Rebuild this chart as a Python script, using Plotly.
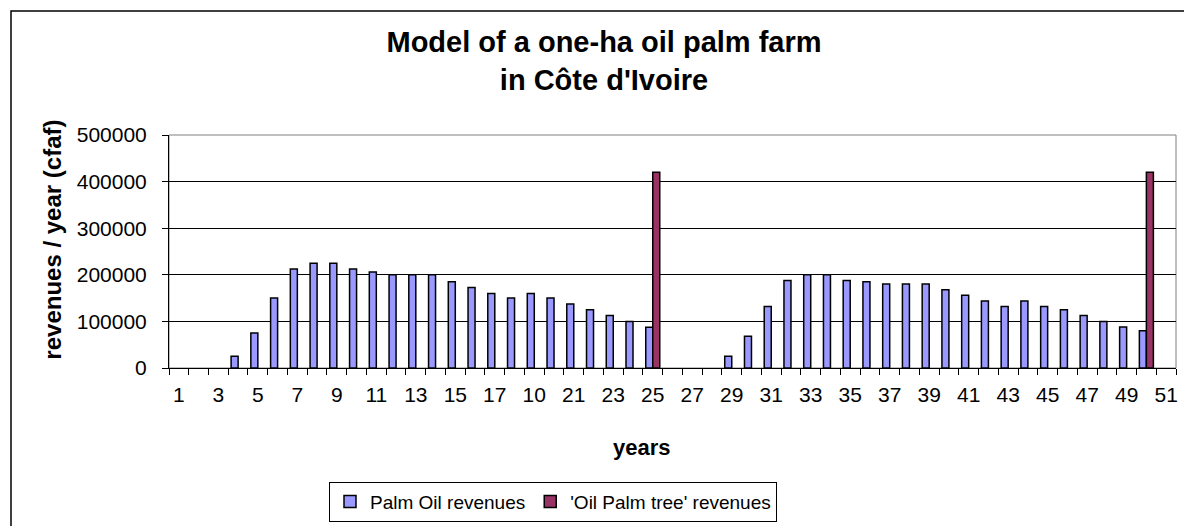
import plotly.graph_objects as go

# --- data ----------------------------------------------------
years = list(range(1, 52))

palm_oil = [0, 0, 0, 25000, 75000, 150000, 212500, 225000, 225000, 212500,
            206000, 200000, 200000, 200000, 185000, 172500, 160000, 150000,
            160000, 150000, 137500, 125000, 112500, 100000, 87500,
            0, 0, 0, 25000, 68000, 132000, 188000, 200000, 200000, 188000,
            185000, 180000, 180000, 180000, 168000, 156000, 144000, 132000,
            144000, 132000, 125000, 112500, 100000, 88000, 80000, 0]

tree = [0] * 51
tree[24] = 420000   # year 25
tree[49] = 420000   # year 50

tick_years = years[::2]
tick_text = ["1", "3", "5", "7", "9", "11", "13", "15", "17", "10", "21", "23",
             "25", "27", "29", "31", "33", "35", "37", "39", "41", "43", "45",
             "47", "49", "51"]

FONT = "Liberation Sans, Arial, sans-serif"

# plot area in pixels
L, R, T, B = 161, 1168, 127, 363
W, H = 1192, 526
pw, ph = R - L, B - T


def px(x):
    return (x - L) / pw


def py(y):
    return (B - y) / ph


def no_zero(vals):
    # empty years draw no bar at all
    return [v if v else None for v in vals]


fig = go.Figure()

fig.add_trace(go.Bar(
    x=years, y=no_zero(palm_oil), name="Palm Oil revenues",
    marker=dict(color="#9999FF", line=dict(color="black", width=1.5)),
))
fig.add_trace(go.Bar(
    x=years, y=no_zero(tree), name="'Oil Palm tree' revenues",
    marker=dict(color="#993366", line=dict(color="black", width=1.5)),
))

fig.update_layout(
    width=W, height=H,
    margin=dict(l=L, r=W - R, t=T, b=H - B),
    paper_bgcolor="white", plot_bgcolor="white",
    barmode="group", bargap=0.29, bargroupgap=0,
    font=dict(family=FONT, size=21, color="black"),
    title=dict(
        text="<b>Model of a one-ha oil palm farm<br>in Côte d'Ivoire</b>",
        x=0.5, xref="container", xanchor="center",
        y=1 - 44 / H, yref="container", yanchor="top",
        font=dict(size=29, family=FONT),
    ),
    xaxis=dict(
        range=[0.5, 51.5], tickmode="array", tickvals=tick_years,
        ticktext=tick_text, ticks="", showgrid=False, zeroline=False,
        showline=True, linecolor="black", linewidth=1,
        ticklabelstandoff=8,
        minor=dict(tick0=0.5, dtick=1, ticks="outside", ticklen=6,
                   tickcolor="black", tickwidth=1, showgrid=False),
    ),
    yaxis=dict(
        range=[0, 500000], dtick=100000, tickformat="d",
        ticks="outside", ticklen=6, tickcolor="black",
        ticklabelstandoff=11,
        showgrid=True, gridcolor="black", gridwidth=1, zeroline=False,
        showline=True, linecolor="black", linewidth=1,
    ),
    showlegend=True,
    legend=dict(
        orientation="h", x=px(545), xanchor="center",
        y=py(478), yanchor="top",
        bordercolor="black", borderwidth=1, bgcolor="white",
        font=dict(size=19, family=FONT), itemwidth=30,
        traceorder="normal",
    ),
    annotations=[
        dict(text="<b>revenues / year (cfaf)</b>", textangle=-90,
             xref="paper", yref="paper", x=px(45), y=py(233),
             xanchor="center", yanchor="middle", showarrow=False,
             font=dict(size=24, family=FONT)),
        dict(text="<b>years</b>", xref="paper", yref="paper",
             x=px(634), y=py(444), xanchor="center", yanchor="middle",
             showarrow=False, font=dict(size=22, family=FONT)),
    ],
    shapes=[
        # grey plot-area border (top and right)
        dict(type="rect", xref="paper", yref="paper", x0=0, x1=1, y0=0, y1=1,
             line=dict(color="#808080", width=1), layer="below"),
        # outer chart frame
        dict(type="rect", xref="paper", yref="paper",
             x0=px(3), x1=px(1186.5), y0=py(530), y1=py(1.5),
             line=dict(color="black", width=1.5)),
    ],
)

fig.write_html("out.html")
